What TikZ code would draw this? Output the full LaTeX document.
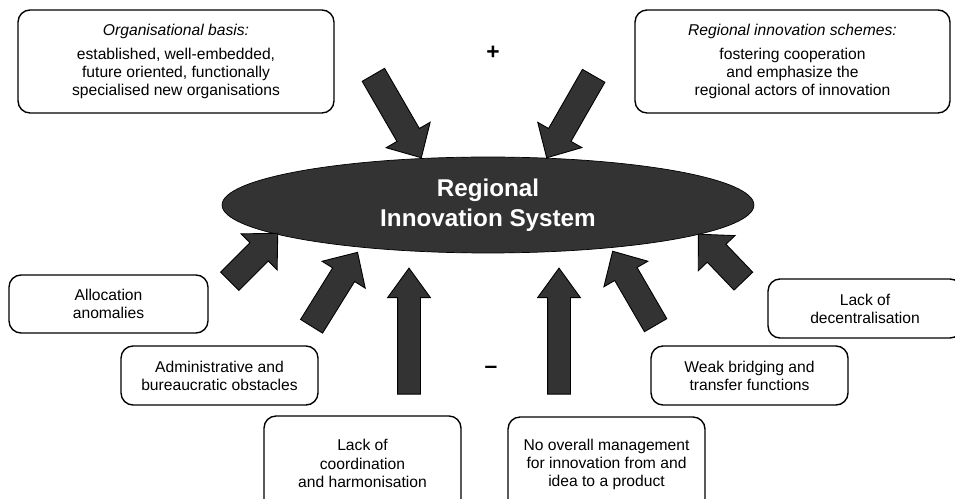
\documentclass[tikz,border=0pt]{standalone}
\usepackage{fontspec}
\setmainfont{Liberation Sans}
\usetikzlibrary{shapes.geometric,shapes.arrows,calc}
\definecolor{risgray}{HTML}{333333}

\begin{document}
\begin{tikzpicture}
  [x=0.02cm,y=-0.02cm,every node/.style={font=\fontsize{8.9}{10.3}\selectfont}]
 \tikzset{box/.style = {draw,rounded corners=0.24cm,line width=0.8pt,align=center,inner sep=0pt},
          bigarrow/.style = {single arrow,draw=black,fill=risgray,line width=0.5pt,inner xsep=0pt,inner ysep=0.25cm,
            single arrow head extend=0.25cm,single arrow tip angle=88,allow upside down},
          uparrow/.style = {bigarrow,inner ysep=0.22cm,single arrow head extend=0.2cm,single arrow tip angle=72}}
  \useasboundingbox (0,0) rectangle (955,499);

  \node[ellipse,draw,fill=risgray,minimum width=10.64cm,minimum height=1.92cm,text=white,align=center,
        font=\fontsize{13.8}{16.8}\selectfont\bfseries] (ris) at (488,205) {Regional\\ Innovation System};

  \node[box,minimum width=6.32cm,minimum height=2.06cm] (org) at (176,61.5)
    {\textit{Organisational basis:}\\[3pt] established, well-embedded,\\ future oriented, functionally\\ specialised new organisations};
  \node[box,minimum width=6.3cm,minimum height=2.06cm] (scheme) at (792.5,61.5)
    {\textit{Regional innovation schemes:}\\[3pt] fostering cooperation\\ and emphasize the\\ regional actors of innovation};
  \node[box,minimum width=3.98cm,minimum height=1.16cm] (alloc) at (108.5,304) {Allocation\\ anomalies};
  \node[box,minimum width=3.94cm,minimum height=1.18cm] (admin) at (219.5,375.5) {Administrative and\\ bureaucratic obstacles};
  \node[box,minimum width=3.94cm,minimum height=1.9cm] (coord) at (362.5,463.5) {Lack of\\ coordination\\ and harmonisation};
  \node[box,minimum width=3.94cm,minimum height=1.9cm] (manage) at (606.5,464.5) {No overall management\\ for innovation from and\\ idea to a product};
  \node[box,minimum width=3.94cm,minimum height=1.18cm] (bridge) at (749.5,375.5) {Weak bridging and\\ transfer functions};
  \node[box,minimum width=3.88cm,minimum height=1.18cm] (decent) at (865,308.5) {Lack of\\ decentralisation};

  \node (plus) at (493,53) {\fontsize{13}{13}\selectfont\textbf{+}};
  \node (minus) at (491,370) {\fontsize{13}{13}\selectfont\textbf{--}};

  \coordinate (org-t) at (370,69);    \coordinate (org-h) at (418,152);
  \coordinate (scheme-t) at (597,70); \coordinate (scheme-h) at (550,152);
  \coordinate (alloc-t) at (225,286); \coordinate (alloc-h) at (273,238);
  \coordinate (admin-t) at (308,332); \coordinate (admin-h) at (354,258);
  \coordinate (coord-t) at (409,402); \coordinate (coord-h) at (409,276);
  \coordinate (manage-t) at (559,402); \coordinate (manage-h) at (559,276);
  \coordinate (bridge-t) at (659,331); \coordinate (bridge-h) at (616,257);
  \coordinate (decent-t) at (748,286); \coordinate (decent-h) at (703,239);

  \foreach \from/\to in {org-t/org-h,scheme-t/scheme-h,alloc-t/alloc-h,admin-t/admin-h,bridge-t/bridge-h,decent-t/decent-h}
    \path let \p1 = ($(\to)-(\from)$) in (\from) -- (\to)
      node[midway,sloped,bigarrow,minimum height={veclen(\x1,\y1)}] {};
  \foreach \from/\to in {coord-t/coord-h,manage-t/manage-h}
    \path let \p1 = ($(\to)-(\from)$) in (\from) -- (\to)
      node[midway,sloped,uparrow,minimum height={veclen(\x1,\y1)}] {};

\end{tikzpicture}
\end{document}
